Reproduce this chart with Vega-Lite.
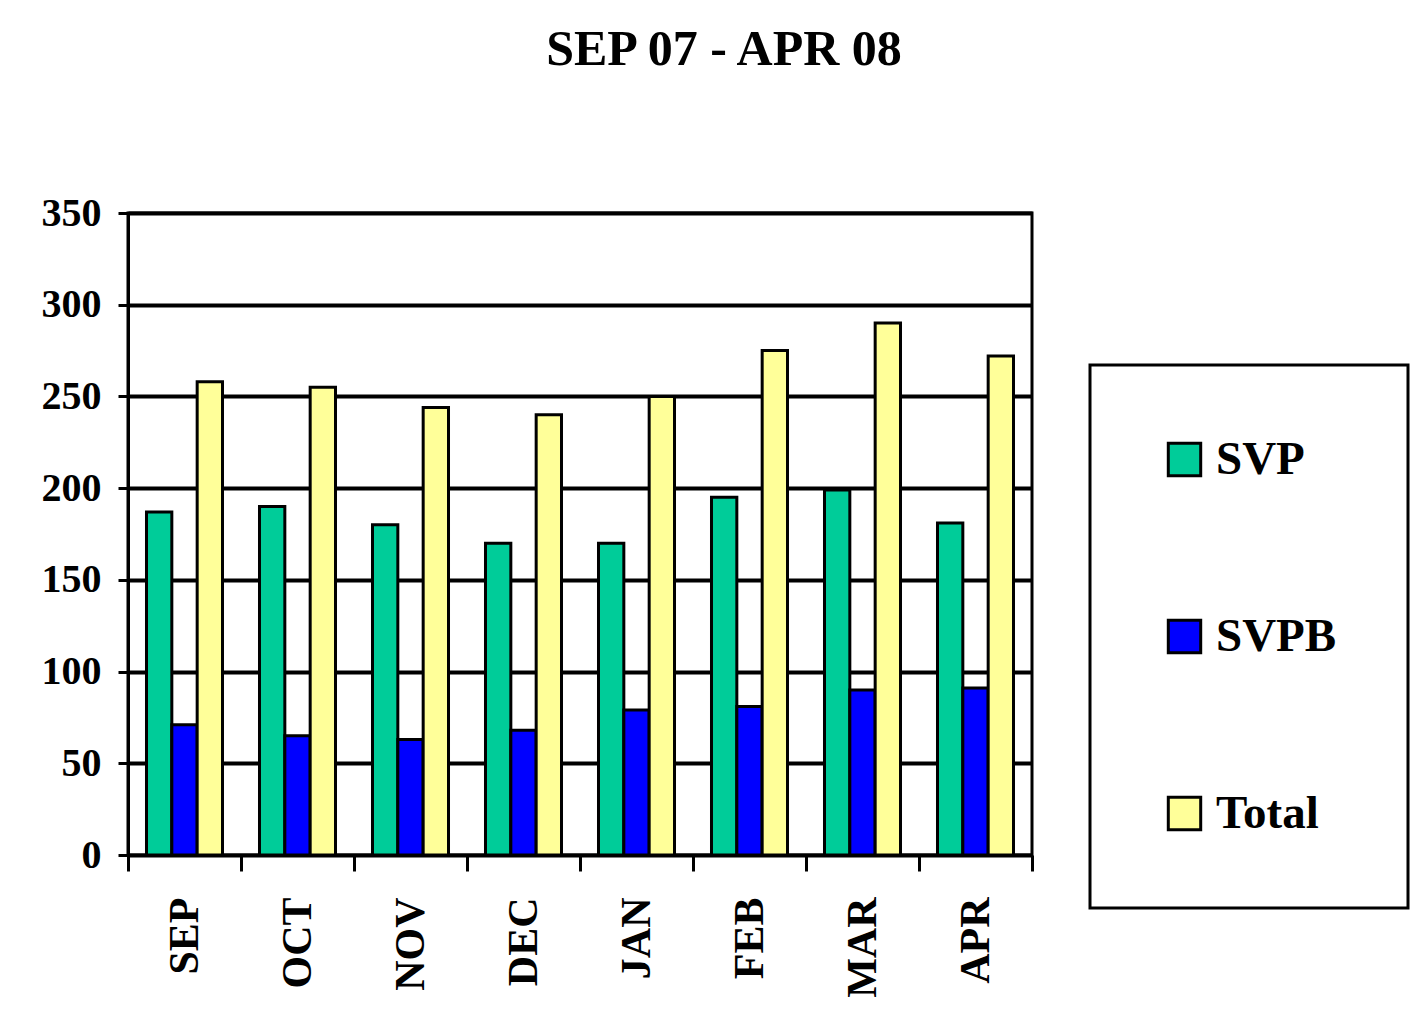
{
  "$schema": "https://vega.github.io/schema/vega-lite/v6.json",
  "width": 904,
  "height": 642,
  "autosize": "none",
  "padding": {"left": 128, "top": 213, "right": 393, "bottom": 171},
  "background": "white",
  "title": {
    "text": "SEP 07 - APR 08",
    "font": "Liberation Serif",
    "fontSize": 50,
    "fontWeight": "bold",
    "color": "black",
    "offset": 118,
    "anchor": "middle",
    "dx": 144
  },
  "data": {
    "values": [
      {"month": "SEP", "series": "SVP", "value": 187},
      {"month": "SEP", "series": "SVPB", "value": 71},
      {"month": "SEP", "series": "Total", "value": 258},
      {"month": "OCT", "series": "SVP", "value": 190},
      {"month": "OCT", "series": "SVPB", "value": 65},
      {"month": "OCT", "series": "Total", "value": 255},
      {"month": "NOV", "series": "SVP", "value": 180},
      {"month": "NOV", "series": "SVPB", "value": 63},
      {"month": "NOV", "series": "Total", "value": 244},
      {"month": "DEC", "series": "SVP", "value": 170},
      {"month": "DEC", "series": "SVPB", "value": 68},
      {"month": "DEC", "series": "Total", "value": 240},
      {"month": "JAN", "series": "SVP", "value": 170},
      {"month": "JAN", "series": "SVPB", "value": 79},
      {"month": "JAN", "series": "Total", "value": 250},
      {"month": "FEB", "series": "SVP", "value": 195},
      {"month": "FEB", "series": "SVPB", "value": 81},
      {"month": "FEB", "series": "Total", "value": 275},
      {"month": "MAR", "series": "SVP", "value": 199},
      {"month": "MAR", "series": "SVPB", "value": 90},
      {"month": "MAR", "series": "Total", "value": 290},
      {"month": "APR", "series": "SVP", "value": 181},
      {"month": "APR", "series": "SVPB", "value": 91},
      {"month": "APR", "series": "Total", "value": 272}
    ]
  },
  "mark": {"type": "bar", "stroke": "black", "strokeWidth": 3},
  "encoding": {
    "x": {
      "field": "month",
      "type": "nominal",
      "sort": ["SEP", "OCT", "NOV", "DEC", "JAN", "FEB", "MAR", "APR"],
      "scale": {"paddingInner": 0, "paddingOuter": 0},
      "axis": {
        "title": null,
        "tickBand": "extent",
        "labelAngle": -90,
        "labelFont": "Liberation Serif",
        "labelFontSize": 42,
        "labelFontWeight": "bold",
        "labelColor": "black",
        "labelPadding": 26,
        "tickSize": 16,
        "tickWidth": 3,
        "tickColor": "black",
        "domainColor": "black",
        "domainWidth": 3,
        "grid": false
      }
    },
    "xOffset": {
      "field": "series",
      "type": "nominal",
      "sort": ["SVP", "SVPB", "Total"],
      "scale": {"paddingInner": 0, "paddingOuter": 0.73}
    },
    "y": {
      "field": "value",
      "type": "quantitative",
      "scale": {"domain": [0, 350], "nice": false},
      "axis": {
        "title": null,
        "values": [0, 50, 100, 150, 200, 250, 300, 350],
        "labelFont": "Liberation Serif",
        "labelFontSize": 40,
        "labelFontWeight": "bold",
        "labelColor": "black",
        "labelPadding": 17,
        "tickSize": 10,
        "tickWidth": 3,
        "tickColor": "black",
        "domainColor": "black",
        "domainWidth": 3,
        "grid": true,
        "gridColor": "black",
        "gridWidth": 4,
        "gridOpacity": 1
      }
    },
    "color": {
      "field": "series",
      "type": "nominal",
      "scale": {
        "domain": ["SVP", "SVPB", "Total"],
        "range": ["#00CC99", "#0000FF", "#FFFF99"]
      },
      "legend": {
        "title": null,
        "orient": "none",
        "legendX": 962,
        "legendY": 152,
        "padding": 71,
        "rowPadding": 129,
        "strokeColor": "black",
        "symbolType": "square",
        "symbolSize": 1050,
        "symbolStrokeColor": "black",
        "symbolStrokeWidth": 3,
        "symbolOpacity": 1,
        "labelFont": "Liberation Serif",
        "labelFontSize": 47,
        "labelFontWeight": "bold",
        "labelColor": "black",
        "labelOffset": 8
      }
    }
  },
  "config": {
    "view": {"stroke": "black", "strokeWidth": 3},
    "legend": {"strokeWidth": 3}
  }
}
